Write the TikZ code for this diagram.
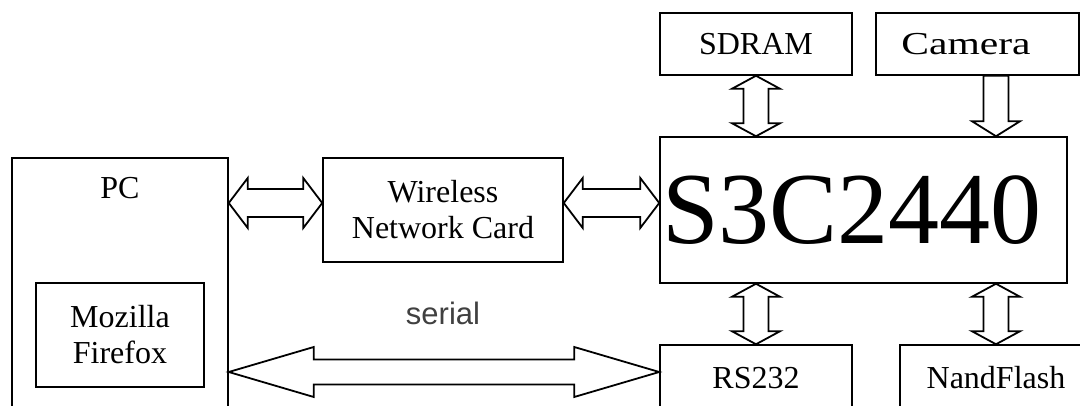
\documentclass[tikz,border=0pt]{standalone}
\usepackage{fontspec}
\setmainfont{Liberation Serif}
\setsansfont{Liberation Sans}
\usepackage{graphicx}
\usepackage{tikz}
\usetikzlibrary{calc}

% hollow block arrows: start, end, head length, head half width, shaft half width
\newcommand{\hdarrow}[5]{%
	\draw[blockarrow] let \p1=#1, \p2=#2 in
	(\x1,\y1) -- (\x1+#3,\y1+#4) -- (\x1+#3,\y1+#5) -- (\x2-#3,\y1+#5) -- (\x2-#3,\y1+#4)
	-- (\x2,\y1) -- (\x2-#3,\y1-#4) -- (\x2-#3,\y1-#5) -- (\x1+#3,\y1-#5) -- (\x1+#3,\y1-#4) -- cycle;}
\newcommand{\vdarrow}[5]{%
	\draw[blockarrow] let \p1=#1, \p2=#2 in
	(\x1,\y1) -- (\x1+#4,\y1-#3) -- (\x1+#5,\y1-#3) -- (\x1+#5,\y2+#3) -- (\x1+#4,\y2+#3)
	-- (\x1,\y2) -- (\x1-#4,\y2+#3) -- (\x1-#5,\y2+#3) -- (\x1-#5,\y1-#3) -- (\x1-#4,\y1-#3) -- cycle;}
\newcommand{\vsarrow}[5]{%
	\draw[blockarrow] let \p1=#1, \p2=#2 in
	(\x1-#5,\y1) -- (\x1+#5,\y1) -- (\x1+#5,\y2+#3) -- (\x1+#4,\y2+#3)
	-- (\x1,\y2) -- (\x1-#4,\y2+#3) -- (\x1-#5,\y2+#3) -- cycle;}

\begin{document}
\begin{tikzpicture}[x=1pt,y=1pt,
	blockarrow/.style={draw=black,line width=1.8pt,fill=white,line join=miter}]
	\useasboundingbox (0,0) rectangle (1080,405);
	\clip (0,0) rectangle (1080,405);

	\begin{scope}[every node/.style={rectangle,draw=black,line width=1.5pt,inner sep=0pt,align=center,font=\fontsize{32}{36}\selectfont}]
	\node[minimum width=216pt,minimum height=267pt] (PC) at (120,113.5) {};
	\node[draw=none] (PCtext) at (120,217) {PC};
	\node[minimum width=168pt,minimum height=104pt] (FF) at (120,70) {Mozilla\\Firefox};
	\node[minimum width=240pt,minimum height=104pt] (WNC) at (443,195) {Wireless\\Network Card};
	\node[minimum width=407pt,minimum height=146pt] (S3C) at (863.5,195) {};
	\node[draw=none,font=\fontsize{102}{106}\selectfont] (S3Ctext) at (852,195) {S3C2440};
	\node[minimum width=192pt,minimum height=62pt] (SDRAM) at (756,361) {SDRAM};
	\node[minimum width=203pt,minimum height=62pt] (Camera) at (977.5,361) {};
	\node[draw=none] (Cameratext) at (966,361) {\scalebox{1.3}[1]{Camera}};
	\node[minimum width=192pt,minimum height=66pt] (RS232) at (756,27) {RS232};
	\node[minimum width=192pt,minimum height=66pt] (NandFlash) at (996,27) {NandFlash};
	\node[draw=none,font=\sffamily\fontsize{31}{34}\selectfont,text=black!75] (serial) at (443,92) {serial};

	\end{scope}

	\hdarrow{($(PC.east |- WNC.west)+(0,7)$)}{($(WNC.west)+(0,7)$)}{19}{25}{14}
	\hdarrow{($(WNC.east)+(0,7)$)}{($(S3C.west)+(0,7)$)}{19}{25}{14}
	\vdarrow{(SDRAM.south)}{(SDRAM.south |- S3C.north)}{13}{24}{12.5}
	\vsarrow{(NandFlash.north |- Camera.south)}{(NandFlash.north |- S3C.north)}{15}{24}{12.5}
	\vdarrow{(S3C.south -| RS232.north)}{(RS232.north)}{13}{24}{12.5}
	\vdarrow{(S3C.south -| NandFlash.north)}{(NandFlash.north)}{13}{24}{12.5}
	\hdarrow{($(PC.east |- RS232.west)+(0,6)$)}{($(RS232.west)+(0,6)$)}{85}{25}{12.5}

\end{tikzpicture}
\end{document}
